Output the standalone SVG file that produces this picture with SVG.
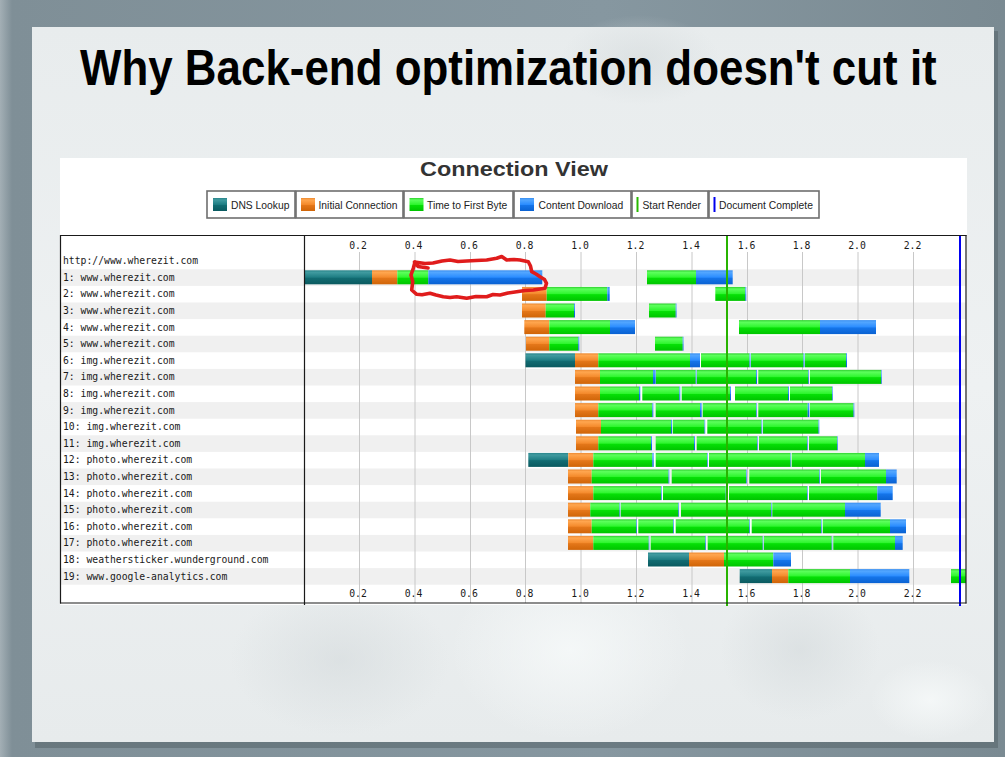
<svg xmlns="http://www.w3.org/2000/svg" width="1005" height="757" viewBox="0 0 1005 757">
  <defs>
    <linearGradient id="frameGrad" x1="0" y1="0" x2="1" y2="0">
      <stop offset="0" stop-color="#a3afb5"/>
      <stop offset="0.012" stop-color="#7f8f97"/>
      <stop offset="0.6" stop-color="#8697a0"/>
      <stop offset="1" stop-color="#7a8a92"/>
    </linearGradient>
    <linearGradient id="slideGrad" x1="0" y1="0" x2="0" y2="1">
      <stop offset="0" stop-color="#e8eced"/>
      <stop offset="0.5" stop-color="#eef1f2"/>
      <stop offset="1" stop-color="#e7ebec"/>
    </linearGradient>
    <radialGradient id="blotDark">
      <stop offset="0" stop-color="#d4dadc" stop-opacity="0.6"/>
      <stop offset="1" stop-color="#d4dadc" stop-opacity="0"/>
    </radialGradient>
    <radialGradient id="blotLight">
      <stop offset="0" stop-color="#f7fafa" stop-opacity="0.8"/>
      <stop offset="1" stop-color="#f7fafa" stop-opacity="0"/>
    </radialGradient>
    <linearGradient id="gDns" x1="0" y1="0" x2="0" y2="1">
      <stop offset="0" stop-color="#2a858b"/>
      <stop offset="0.15" stop-color="#3f9a9f"/>
      <stop offset="0.5" stop-color="#1e7d83"/>
      <stop offset="0.55" stop-color="#126c72"/>
      <stop offset="1" stop-color="#0a5a60"/>
    </linearGradient>
    <linearGradient id="gConn" x1="0" y1="0" x2="0" y2="1">
      <stop offset="0" stop-color="#ec8a32"/>
      <stop offset="0.15" stop-color="#ffa64f"/>
      <stop offset="0.5" stop-color="#f48a2c"/>
      <stop offset="0.55" stop-color="#e4771a"/>
      <stop offset="1" stop-color="#d06508"/>
    </linearGradient>
    <linearGradient id="gTtfb" x1="0" y1="0" x2="0" y2="1">
      <stop offset="0" stop-color="#2ecf2e"/>
      <stop offset="0.15" stop-color="#5cff5c"/>
      <stop offset="0.5" stop-color="#2ef52e"/>
      <stop offset="0.55" stop-color="#06e006"/>
      <stop offset="1" stop-color="#00c400"/>
    </linearGradient>
    <linearGradient id="gDl" x1="0" y1="0" x2="0" y2="1">
      <stop offset="0" stop-color="#3a8ff0"/>
      <stop offset="0.15" stop-color="#52a6ff"/>
      <stop offset="0.5" stop-color="#2a8cff"/>
      <stop offset="0.55" stop-color="#1575ea"/>
      <stop offset="1" stop-color="#0a62d2"/>
    </linearGradient>
    <style>
      .title { font-family: "Liberation Sans", Arial, sans-serif; font-weight: bold; font-size: 49px; fill: #000; }
      .ctitle { font-family: "Liberation Sans", Arial, sans-serif; font-weight: bold; font-size: 21px; fill: #333; text-anchor: middle; }
      .lg { font-family: "Liberation Sans", Arial, sans-serif; font-size: 10.3px; fill: #222; }
      .lgbox { fill: #fff; stroke: #6e6e6e; stroke-width: 1.6; }
      .lbl { font-family: "DejaVu Sans Mono", "Liberation Mono", monospace; font-size: 9.75px; fill: #1a1a1a; }
      .ax { font-family: "DejaVu Sans Mono", "Liberation Mono", monospace; font-size: 9.75px; fill: #1a1a1a; text-anchor: middle; }
      .band { fill: #f0f0f0; }
      .grid { stroke: #c8c8c8; stroke-width: 1; }
      .frame { stroke: #1a1a1a; stroke-width: 1.2; fill: none; }
      .d { fill: url(#gDns); }
      .c { fill: url(#gConn); }
      .t { fill: url(#gTtfb); }
      .b { fill: url(#gDl); }
    </style>
  </defs>

  <!-- slide frame and background -->
  <rect x="0" y="0" width="1005" height="757" fill="url(#frameGrad)"/>
  <rect x="35" y="31" width="963" height="717" fill="#56646a" opacity="0.55"/>
  <rect x="32" y="27" width="962" height="715" fill="url(#slideGrad)"/>
  <g id="slide-texture">
    <ellipse cx="340" cy="660" rx="110" ry="75" fill="url(#blotDark)"/>
    <ellipse cx="800" cy="650" rx="80" ry="70" fill="url(#blotDark)"/>
    <ellipse cx="570" cy="650" rx="120" ry="90" fill="url(#blotLight)"/>
    <ellipse cx="930" cy="700" rx="60" ry="40" fill="url(#blotLight)"/>
    <ellipse cx="640" cy="60" rx="80" ry="45" fill="url(#blotDark)"/>
  </g>

  <!-- slide heading -->
  <text class="title" transform="translate(80,85) scale(0.896,1)" x="0" y="0">Why Back-end optimization doesn't cut it</text>

  <!-- chart panel -->
  <rect x="60" y="158" width="907" height="447" fill="#fff"/>
  <text class="ctitle" x="514" y="176" textLength="188" lengthAdjust="spacingAndGlyphs">Connection View</text>

  <!-- legend -->
  <g id="legend">
    <g id="legend-dns">
      <rect class="lgbox" x="207" y="191" width="88" height="27"/>
      <rect class="d" x="213" y="198" width="14" height="13"/>
      <text class="lg" x="231" y="208.5">DNS Lookup</text>
    </g>
    <g id="legend-connect">
      <rect class="lgbox" x="296" y="191" width="107" height="27"/>
      <rect class="c" x="301" y="198" width="14" height="13"/>
      <text class="lg" x="318.5" y="208.5">Initial Connection</text>
    </g>
    <g id="legend-ttfb">
      <rect class="lgbox" x="404" y="191" width="109" height="27"/>
      <rect class="t" x="409.5" y="198" width="14" height="13"/>
      <text class="lg" x="427" y="208.5">Time to First Byte</text>
    </g>
    <g id="legend-download">
      <rect class="lgbox" x="514" y="191" width="117" height="27"/>
      <rect class="b" x="520" y="198" width="14" height="13"/>
      <text class="lg" x="538.5" y="208.5">Content Download</text>
    </g>
    <g id="legend-render">
      <rect class="lgbox" x="632" y="191" width="76" height="27"/>
      <line x1="637.5" y1="197" x2="637.5" y2="212" stroke="#28b800" stroke-width="2"/>
      <text class="lg" x="642.5" y="208.5">Start Render</text>
    </g>
    <g id="legend-complete">
      <rect class="lgbox" x="709" y="191" width="110" height="27"/>
      <line x1="714.5" y1="197" x2="714.5" y2="212" stroke="#0000ee" stroke-width="2"/>
      <text class="lg" x="719" y="208.5">Document Complete</text>
    </g>
  </g>

  <!-- alternating row bands -->
  <g id="bands">
    <rect class="band" x="61" y="269.3" width="905" height="16.6"/>
    <rect class="band" x="61" y="302.5" width="905" height="16.6"/>
    <rect class="band" x="61" y="335.7" width="905" height="16.6"/>
    <rect class="band" x="61" y="368.9" width="905" height="16.6"/>
    <rect class="band" x="61" y="402.1" width="905" height="16.6"/>
    <rect class="band" x="61" y="435.3" width="905" height="16.6"/>
    <rect class="band" x="61" y="468.5" width="905" height="16.6"/>
    <rect class="band" x="61" y="501.7" width="905" height="16.6"/>
    <rect class="band" x="61" y="534.9" width="905" height="16.6"/>
    <rect class="band" x="61" y="568.1" width="905" height="16.6"/>
  </g>

  <!-- time grid -->
  <g id="grid">
    <line class="grid" x1="359.5" y1="252" x2="359.5" y2="603"/>
    <line class="grid" x1="415" y1="252" x2="415" y2="603"/>
    <line class="grid" x1="470.5" y1="252" x2="470.5" y2="603"/>
    <line class="grid" x1="525.5" y1="252" x2="525.5" y2="603"/>
    <line class="grid" x1="581" y1="252" x2="581" y2="603"/>
    <line class="grid" x1="636.5" y1="252" x2="636.5" y2="603"/>
    <line class="grid" x1="692" y1="252" x2="692" y2="603"/>
    <line class="grid" x1="747.5" y1="252" x2="747.5" y2="603"/>
    <line class="grid" x1="802.5" y1="252" x2="802.5" y2="603"/>
    <line class="grid" x1="858" y1="252" x2="858" y2="603"/>
    <line class="grid" x1="913.5" y1="252" x2="913.5" y2="603"/>
  </g>

  <!-- axis labels -->
  <g id="axis-top">
    <text class="ax" x="358" y="248.5">0.2</text>
    <text class="ax" x="413.5" y="248.5">0.4</text>
    <text class="ax" x="469" y="248.5">0.6</text>
    <text class="ax" x="524.5" y="248.5">0.8</text>
    <text class="ax" x="580" y="248.5">1.0</text>
    <text class="ax" x="635.5" y="248.5">1.2</text>
    <text class="ax" x="691" y="248.5">1.4</text>
    <text class="ax" x="746.5" y="248.5">1.6</text>
    <text class="ax" x="801.5" y="248.5">1.8</text>
    <text class="ax" x="857" y="248.5">2.0</text>
    <text class="ax" x="912.5" y="248.5">2.2</text>
  </g>
  <g id="axis-bottom">
    <text class="ax" x="358" y="597">0.2</text>
    <text class="ax" x="413.5" y="597">0.4</text>
    <text class="ax" x="469" y="597">0.6</text>
    <text class="ax" x="524.5" y="597">0.8</text>
    <text class="ax" x="580" y="597">1.0</text>
    <text class="ax" x="635.5" y="597">1.2</text>
    <text class="ax" x="691" y="597">1.4</text>
    <text class="ax" x="746.5" y="597">1.6</text>
    <text class="ax" x="801.5" y="597">1.8</text>
    <text class="ax" x="857" y="597">2.0</text>
    <text class="ax" x="912.5" y="597">2.2</text>
  </g>

  <text class="lbl" x="63" y="264">http://www.wherezit.com</text>

  <!-- one row per connection: label and request bars -->
  <g id="row-1" transform="translate(0,269.3)">
    <text class="lbl" x="63" y="11.5">1: www.wherezit.com</text>
    <rect class="d" x="305" y="1" width="67" height="14"/>
    <rect class="c" x="372" y="1" width="25.3" height="14"/>
    <rect class="t" x="397.3" y="1" width="31" height="14"/>
    <rect class="b" x="428.3" y="1" width="114" height="14"/>
    <rect class="t" x="647" y="1" width="49" height="14"/>
    <rect class="b" x="696" y="1" width="36.7" height="14"/>
  </g>
  <g id="row-2" transform="translate(0,285.9)">
    <text class="lbl" x="63" y="11.5">2: www.wherezit.com</text>
    <rect class="c" x="522" y="1" width="24.7" height="14"/>
    <rect class="t" x="546.7" y="1" width="60.6" height="14"/>
    <rect class="b" x="607.3" y="1" width="2.4" height="14"/>
    <rect class="t" x="715.3" y="1" width="30" height="14"/>
    <rect class="b" x="745.3" y="1" width="1" height="14"/>
  </g>
  <g id="row-3" transform="translate(0,302.5)">
    <text class="lbl" x="63" y="11.5">3: www.wherezit.com</text>
    <rect class="c" x="522" y="1" width="23.7" height="14"/>
    <rect class="t" x="545.7" y="1" width="28.3" height="14"/>
    <rect class="b" x="574" y="1" width="1" height="14"/>
    <rect class="t" x="649" y="1" width="26.7" height="14"/>
    <rect class="b" x="675.7" y="1" width="0.8" height="14"/>
  </g>
  <g id="row-4" transform="translate(0,319.1)">
    <text class="lbl" x="63" y="11.5">4: www.wherezit.com</text>
    <rect class="c" x="524.3" y="1" width="25" height="14"/>
    <rect class="t" x="549.3" y="1" width="60.7" height="14"/>
    <rect class="b" x="610" y="1" width="25" height="14"/>
    <rect class="t" x="739" y="1" width="81" height="14"/>
    <rect class="b" x="820" y="1" width="56" height="14"/>
  </g>
  <g id="row-5" transform="translate(0,335.7)">
    <text class="lbl" x="63" y="11.5">5: www.wherezit.com</text>
    <rect class="c" x="526" y="1" width="23.3" height="14"/>
    <rect class="t" x="549.3" y="1" width="29" height="14"/>
    <rect class="b" x="578.3" y="1" width="1" height="14"/>
    <rect class="t" x="655" y="1" width="27.7" height="14"/>
    <rect class="b" x="682.7" y="1" width="0.8" height="14"/>
  </g>
  <g id="row-6" transform="translate(0,352.3)">
    <text class="lbl" x="63" y="11.5">6: img.wherezit.com</text>
    <rect class="d" x="525.5" y="1" width="49.5" height="14"/>
    <rect class="c" x="575" y="1" width="23.3" height="14"/>
    <rect class="t" x="598.3" y="1" width="91.7" height="14"/>
    <rect class="b" x="690" y="1" width="10" height="14"/>
    <rect class="t" x="701" y="1" width="48.5" height="14"/>
    <rect class="b" x="749.5" y="1" width="1" height="14"/>
    <rect class="t" x="751" y="1" width="52.5" height="14"/>
    <rect class="b" x="803.5" y="1" width="1" height="14"/>
    <rect class="t" x="805" y="1" width="41" height="14"/>
    <rect class="b" x="846" y="1" width="1" height="14"/>
  </g>
  <g id="row-7" transform="translate(0,368.9)">
    <text class="lbl" x="63" y="11.5">7: img.wherezit.com</text>
    <rect class="c" x="575" y="1" width="25" height="14"/>
    <rect class="t" x="600" y="1" width="53" height="14"/>
    <rect class="b" x="653" y="1" width="2.7" height="14"/>
    <rect class="t" x="656" y="1" width="39.7" height="14"/>
    <rect class="b" x="695.7" y="1" width="0.8" height="14"/>
    <rect class="t" x="697" y="1" width="59" height="14"/>
    <rect class="b" x="756" y="1" width="1" height="14"/>
    <rect class="t" x="758.3" y="1" width="50" height="14"/>
    <rect class="b" x="808.3" y="1" width="0.7" height="14"/>
    <rect class="t" x="810" y="1" width="71" height="14"/>
    <rect class="b" x="881" y="1" width="0.7" height="14"/>
  </g>
  <g id="row-8" transform="translate(0,385.5)">
    <text class="lbl" x="63" y="11.5">8: img.wherezit.com</text>
    <rect class="c" x="575" y="1" width="25" height="14"/>
    <rect class="t" x="600" y="1" width="39" height="14"/>
    <rect class="b" x="639" y="1" width="1.3" height="14"/>
    <rect class="t" x="642.3" y="1" width="37" height="14"/>
    <rect class="b" x="679.3" y="1" width="1" height="14"/>
    <rect class="t" x="681.7" y="1" width="48.3" height="14"/>
    <rect class="b" x="730" y="1" width="1" height="14"/>
    <rect class="t" x="735" y="1" width="53" height="14"/>
    <rect class="b" x="788" y="1" width="1" height="14"/>
    <rect class="t" x="790" y="1" width="42" height="14"/>
    <rect class="b" x="832" y="1" width="0.7" height="14"/>
  </g>
  <g id="row-9" transform="translate(0,402.1)">
    <text class="lbl" x="63" y="11.5">9: img.wherezit.com</text>
    <rect class="c" x="575" y="1" width="23.3" height="14"/>
    <rect class="t" x="598.3" y="1" width="54" height="14"/>
    <rect class="b" x="652.3" y="1" width="1" height="14"/>
    <rect class="t" x="655.7" y="1" width="44.3" height="14"/>
    <rect class="b" x="700" y="1" width="1.7" height="14"/>
    <rect class="t" x="702.7" y="1" width="53.3" height="14"/>
    <rect class="b" x="756" y="1" width="0.7" height="14"/>
    <rect class="t" x="758.3" y="1" width="49.4" height="14"/>
    <rect class="b" x="807.7" y="1" width="1.6" height="14"/>
    <rect class="t" x="810" y="1" width="43.5" height="14"/>
    <rect class="b" x="853.5" y="1" width="0.8" height="14"/>
  </g>
  <g id="row-10" transform="translate(0,418.7)">
    <text class="lbl" x="63" y="11.5">10: img.wherezit.com</text>
    <rect class="c" x="576" y="1" width="25" height="14"/>
    <rect class="t" x="601" y="1" width="70" height="14"/>
    <rect class="b" x="671" y="1" width="1" height="14"/>
    <rect class="t" x="672.7" y="1" width="31.8" height="14"/>
    <rect class="b" x="704.5" y="1" width="0.7" height="14"/>
    <rect class="t" x="707.3" y="1" width="54.2" height="14"/>
    <rect class="b" x="761.5" y="1" width="0.8" height="14"/>
    <rect class="t" x="763" y="1" width="55.5" height="14"/>
    <rect class="b" x="818.5" y="1" width="0.8" height="14"/>
  </g>
  <g id="row-11" transform="translate(0,435.3)">
    <text class="lbl" x="63" y="11.5">11: img.wherezit.com</text>
    <rect class="c" x="576" y="1" width="22.3" height="14"/>
    <rect class="t" x="598.3" y="1" width="52.7" height="14"/>
    <rect class="b" x="651" y="1" width="1" height="14"/>
    <rect class="t" x="655.7" y="1" width="38.3" height="14"/>
    <rect class="b" x="694" y="1" width="1" height="14"/>
    <rect class="t" x="696.7" y="1" width="60.3" height="14"/>
    <rect class="b" x="757" y="1" width="0.7" height="14"/>
    <rect class="t" x="759" y="1" width="48" height="14"/>
    <rect class="b" x="807" y="1" width="0.7" height="14"/>
    <rect class="t" x="809" y="1" width="28" height="14"/>
    <rect class="b" x="837" y="1" width="0.7" height="14"/>
  </g>
  <g id="row-12" transform="translate(0,451.9)">
    <text class="lbl" x="63" y="11.5">12: photo.wherezit.com</text>
    <rect class="d" x="528.3" y="1" width="40" height="14"/>
    <rect class="c" x="568.3" y="1" width="25" height="14"/>
    <rect class="t" x="593.3" y="1" width="59" height="14"/>
    <rect class="b" x="652.3" y="1" width="1.4" height="14"/>
    <rect class="t" x="655.7" y="1" width="51.3" height="14"/>
    <rect class="b" x="707" y="1" width="0.7" height="14"/>
    <rect class="t" x="709" y="1" width="81.5" height="14"/>
    <rect class="b" x="790.5" y="1" width="0.6" height="14"/>
    <rect class="t" x="791.7" y="1" width="73.3" height="14"/>
    <rect class="b" x="865" y="1" width="14" height="14"/>
  </g>
  <g id="row-13" transform="translate(0,468.5)">
    <text class="lbl" x="63" y="11.5">13: photo.wherezit.com</text>
    <rect class="c" x="568" y="1" width="23.7" height="14"/>
    <rect class="t" x="591.7" y="1" width="76.8" height="14"/>
    <rect class="b" x="668.5" y="1" width="0.8" height="14"/>
    <rect class="t" x="671.7" y="1" width="74.3" height="14"/>
    <rect class="b" x="746" y="1" width="0.7" height="14"/>
    <rect class="t" x="749.3" y="1" width="70" height="14"/>
    <rect class="b" x="819.3" y="1" width="0.7" height="14"/>
    <rect class="t" x="821" y="1" width="65" height="14"/>
    <rect class="b" x="886" y="1" width="10.7" height="14"/>
  </g>
  <g id="row-14" transform="translate(0,485.1)">
    <text class="lbl" x="63" y="11.5">14: photo.wherezit.com</text>
    <rect class="c" x="568" y="1" width="25.3" height="14"/>
    <rect class="t" x="593.3" y="1" width="67.7" height="14"/>
    <rect class="b" x="661" y="1" width="0.7" height="14"/>
    <rect class="t" x="663" y="1" width="62.7" height="14"/>
    <rect class="b" x="725.7" y="1" width="1.3" height="14"/>
    <rect class="t" x="729" y="1" width="78" height="14"/>
    <rect class="b" x="807" y="1" width="0.7" height="14"/>
    <rect class="t" x="809" y="1" width="68.3" height="14"/>
    <rect class="b" x="877.3" y="1" width="15.4" height="14"/>
  </g>
  <g id="row-15" transform="translate(0,501.7)">
    <text class="lbl" x="63" y="11.5">15: photo.wherezit.com</text>
    <rect class="c" x="568" y="1" width="22.3" height="14"/>
    <rect class="t" x="590.3" y="1" width="29.2" height="14"/>
    <rect class="b" x="619.5" y="1" width="0.7" height="14"/>
    <rect class="t" x="620.8" y="1" width="57.5" height="14"/>
    <rect class="b" x="678.3" y="1" width="0.7" height="14"/>
    <rect class="t" x="681" y="1" width="90" height="14"/>
    <rect class="b" x="771" y="1" width="0.7" height="14"/>
    <rect class="t" x="772.3" y="1" width="72.7" height="14"/>
    <rect class="b" x="845" y="1" width="35.7" height="14"/>
  </g>
  <g id="row-16" transform="translate(0,518.3)">
    <text class="lbl" x="63" y="11.5">16: photo.wherezit.com</text>
    <rect class="c" x="568" y="1" width="23.7" height="14"/>
    <rect class="t" x="591.7" y="1" width="44.6" height="14"/>
    <rect class="b" x="636.3" y="1" width="0.7" height="14"/>
    <rect class="t" x="638.3" y="1" width="35" height="14"/>
    <rect class="b" x="673.3" y="1" width="0.7" height="14"/>
    <rect class="t" x="675.7" y="1" width="73.6" height="14"/>
    <rect class="b" x="749.3" y="1" width="0.7" height="14"/>
    <rect class="t" x="751.7" y="1" width="69.3" height="14"/>
    <rect class="b" x="821" y="1" width="0.7" height="14"/>
    <rect class="t" x="822.7" y="1" width="67.3" height="14"/>
    <rect class="b" x="890" y="1" width="16" height="14"/>
  </g>
  <g id="row-17" transform="translate(0,534.9)">
    <text class="lbl" x="63" y="11.5">17: photo.wherezit.com</text>
    <rect class="c" x="568" y="1" width="25.3" height="14"/>
    <rect class="t" x="593.3" y="1" width="55.4" height="14"/>
    <rect class="b" x="648.7" y="1" width="0.6" height="14"/>
    <rect class="t" x="650.7" y="1" width="54.6" height="14"/>
    <rect class="b" x="705.3" y="1" width="0.7" height="14"/>
    <rect class="t" x="707.7" y="1" width="55" height="14"/>
    <rect class="b" x="762.7" y="1" width="0.6" height="14"/>
    <rect class="t" x="764" y="1" width="67.7" height="14"/>
    <rect class="b" x="831.7" y="1" width="0.6" height="14"/>
    <rect class="t" x="833.3" y="1" width="61.7" height="14"/>
    <rect class="b" x="895" y="1" width="7.7" height="14"/>
  </g>
  <g id="row-18" transform="translate(0,551.5)">
    <text class="lbl" x="63" y="11.5">18: weathersticker.wunderground.com</text>
    <rect class="d" x="648" y="1" width="41" height="14"/>
    <rect class="c" x="689" y="1" width="35" height="14"/>
    <rect class="t" x="724" y="1" width="49.3" height="14"/>
    <rect class="b" x="773.3" y="1" width="17.7" height="14"/>
  </g>
  <g id="row-19" transform="translate(0,568.1)">
    <text class="lbl" x="63" y="11.5">19: www.google-analytics.com</text>
    <rect class="d" x="739.7" y="1" width="32.3" height="14"/>
    <rect class="c" x="772" y="1" width="16.3" height="14"/>
    <rect class="t" x="788.3" y="1" width="61.7" height="14"/>
    <rect class="b" x="850" y="1" width="59.3" height="14"/>
    <rect class="t" x="951" y="1" width="15" height="14"/>
  </g>

  <!-- page milestones -->
  <g id="milestones">
    <line x1="727" y1="235" x2="727" y2="606" stroke="#28b400" stroke-width="2"/>
    <line x1="960" y1="235" x2="960" y2="606" stroke="#0000f0" stroke-width="2"/>
  </g>

  <!-- table frame -->
  <g id="frame">
    <line class="frame" x1="60" y1="235.5" x2="966.5" y2="235.5"/>
    <line class="frame" x1="60" y1="603" x2="966.5" y2="603"/>
    <line class="frame" x1="60.5" y1="235" x2="60.5" y2="603.5"/>
    <line class="frame" x1="966" y1="235" x2="966" y2="603.5"/>
    <line class="frame" x1="304.5" y1="235" x2="304.5" y2="605"/>
  </g>

  <!-- hand-drawn highlight loop around the first request -->
  <path id="highlight" d="M 428 268 L 418 266.5 L 414.5 262 L 425 263.5 L 433 263 L 442 261 L 450 260 L 458 261.5 L 466.7 261 L 476 260.5 L 486.7 260 L 496.7 258.3 L 501.7 256.5 L 506.7 260 L 514 259.5 L 520 260 L 528.3 261.7 L 530.5 266 L 531.7 271.7 L 536 274 L 540 276.7 L 544.5 279.5 L 546.5 283.3 L 545 288.3 L 540 289 L 533.3 290 L 525 290.5 L 516.7 291.7 L 508 293 L 500 295 L 493 294.5 L 486.7 296.7 L 476 296.5 L 466.7 298.3 L 456.7 296.7 L 450 297.5 L 443.3 296.7 L 436 295 L 430 293.3 L 422 294.8 L 416.7 294.3 L 411.7 290 L 412.7 281.7 L 411 275 L 413.3 268.3 L 415 262" fill="none" stroke="#e01c1c" stroke-width="3.6" stroke-linejoin="round" stroke-linecap="round"/>
</svg>
